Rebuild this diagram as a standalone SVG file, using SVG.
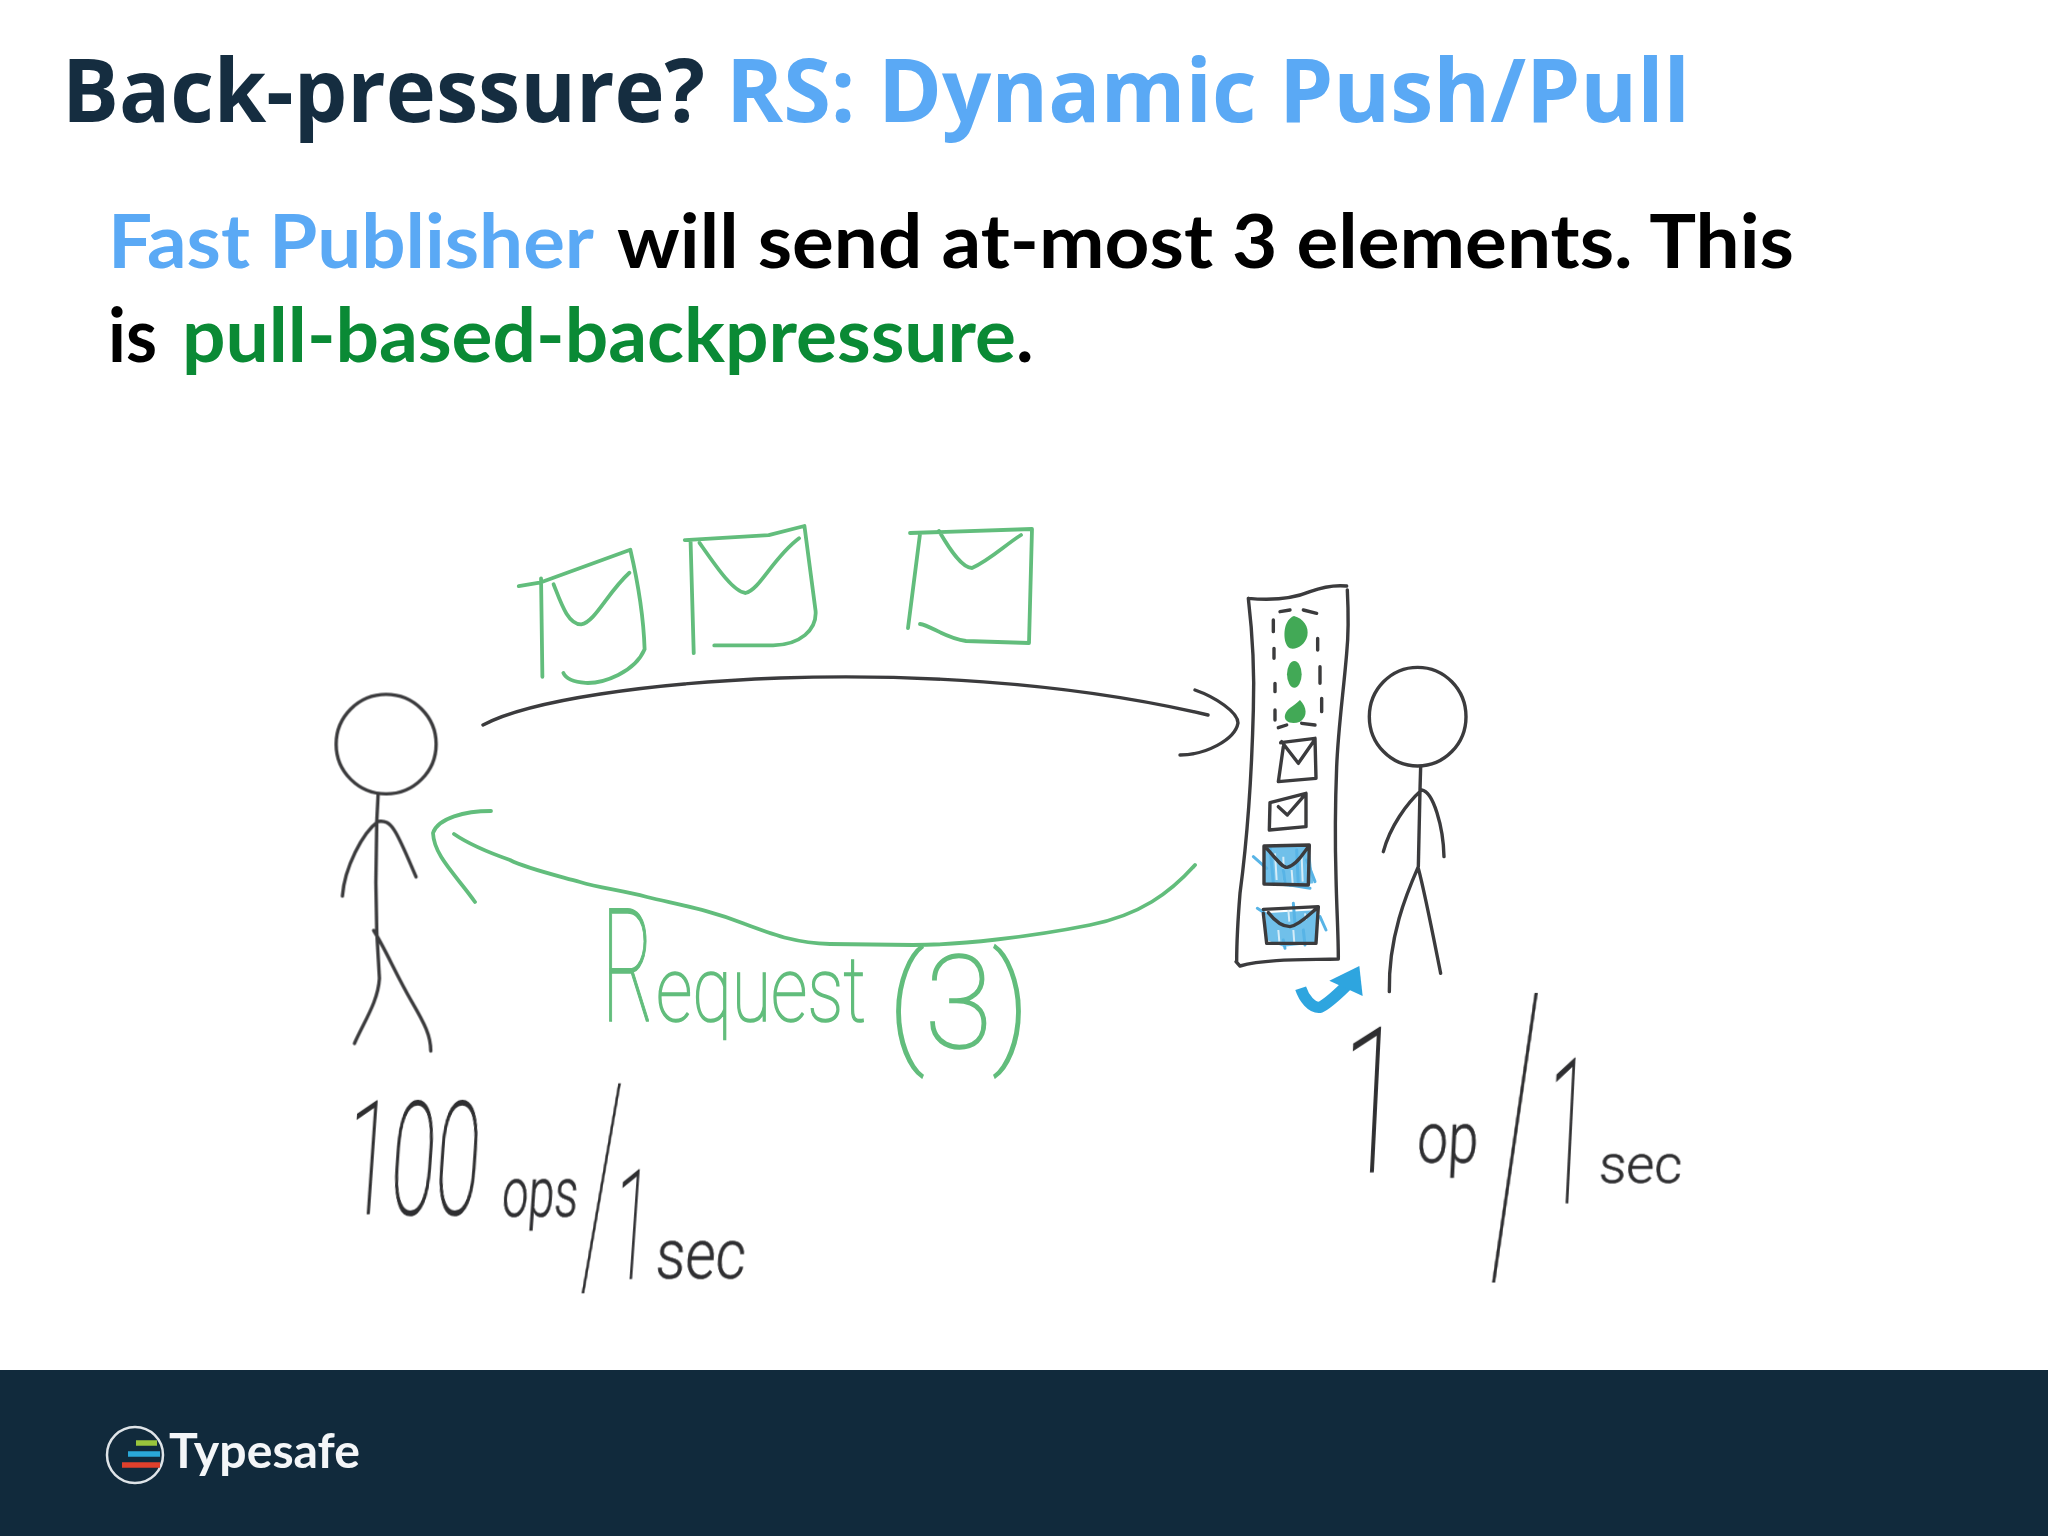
<svg xmlns="http://www.w3.org/2000/svg" width="2048" height="1536" viewBox="0 0 2048 1536">
<style>
.title{font-family:"Open Sans","Noto Sans",sans-serif;font-weight:700;font-size:88px}
.body{font-family:Lato,"Liberation Sans",sans-serif;font-weight:700;font-size:74px}
.ink,.grn,.ib{fill:none;stroke-linecap:round;stroke-linejoin:round;vector-effect:non-scaling-stroke}
.ink{stroke:#3b3b3d;stroke-width:3.4}
.grn{stroke:#62bd7c;stroke-width:3.8}
.ib{stroke:#58b4e6;stroke-width:3}
.hw{font-family:Roboto,"Open Sans",sans-serif;font-weight:100;fill:#2e2e30;stroke:#2e2e30;stroke-width:1.6}
.hwg{font-family:Roboto,"Open Sans",sans-serif;font-weight:100;fill:#62bd7c;stroke:#62bd7c;stroke-width:1.6}
.sm{font-weight:300;stroke-width:.6}
</style>
<defs><filter id="soft" x="-5%" y="-5%" width="110%" height="110%"><feGaussianBlur stdDeviation="0.6"/></filter></defs>
<rect width="2048" height="1536" fill="#ffffff"/>
<g id="title">
<text class="title" x="62" y="122" fill="#152d40" textLength="643" lengthAdjust="spacingAndGlyphs">Back-pressure?</text>
<text class="title" x="726" y="122" fill="#5aa9f5" textLength="964" lengthAdjust="spacingAndGlyphs">RS: Dynamic Push/Pull</text>
</g>
<g id="body">
<text class="body" x="108" y="268" fill="#5aa9f5" textLength="486" lengthAdjust="spacingAndGlyphs">Fast Publisher</text>
<text class="body" x="617" y="268" fill="#000" textLength="1177" lengthAdjust="spacingAndGlyphs">will send at-most 3 elements. This</text>
<text class="body" x="108" y="362" fill="#000" textLength="49" lengthAdjust="spacingAndGlyphs">is</text>
<text class="body" x="182" y="362" fill="#0a8a35" textLength="834" lengthAdjust="spacingAndGlyphs">pull-based-backpressure</text>
<text class="body" x="1016" y="362" fill="#000">.</text>
</g>
<g filter="url(#soft)">
<g id="messages" transform="translate(300 500) scale(.4464 .3827)">
<path class="grn" d="M490 225L540 215L740 130C760 230 770 320 772 390C750 450 680 480 640 478C610 475 595 465 590 452M540 205L543 462M568 220C585 270 600 325 630 325C660 320 690 240 738 190"/>
<path class="grn" d="M862 105L1050 92L1130 68L1155 290C1158 340 1120 378 1060 380L928 380M875 110L882 400M895 112C930 170 970 240 998 243C1030 235 1060 150 1118 100"/>
</g>
<path id="message3" class="grn" d="M910 533L1032 529L1029 643L966 641C945 638 930 625 920 624M920 534L908 628M939 531C950 550 962 568 972 568C990 560 1005 545 1021 535"/>
<g id="connectors">
<path class="ink" d="M483 725C530 700 650 683 780 678C900 674 1060 680 1208 715M1195 690C1215 697 1238 712 1238 723C1235 740 1205 755 1180 755"/>
<path class="grn" d="M1195 865C1170 893 1140 915 1090 925C1030 937 960 945 913 945L830 944C795 943 775 935 745 924C710 910 680 905 647 897C620 890 600 888 580 882C555 875 525 868 510 860C490 853 470 845 454 834M491 811C465 811 438 818 433 833C434 856 456 875 475 902"/>
</g>
<g id="publisher" transform="translate(300 500) scale(.4464 .3827)">
<ellipse class="ink" cx="193" cy="638" rx="112" ry="130"/>
<path class="ink" d="M175 770L172 840L170 1000L172 1130L178 1250C175 1310 145 1360 122 1420M165 1125C190 1170 215 1240 250 1310C280 1370 293 1400 293 1440M95 1035C100 960 140 870 175 840C205 835 215 860 260 985"/>
</g>
<g id="queue" transform="translate(1150 560) scale(.33333)">
<path class="ink" d="M295 115C350 120 420 120 480 95C520 80 560 75 590 78M592 90C595 150 595 230 590 280C580 400 565 500 560 620C555 750 555 850 558 950C560 1050 565 1120 565 1195M565 1197C480 1200 350 1195 270 1218L258 1205M295 115C305 200 315 300 310 450C305 650 290 850 270 1000C262 1100 260 1150 260 1205"/>
<path class="ink" d="M370 180V215M390 155L420 150M460 150L500 160M503 235V270M372 265V295M510 320V370M375 370V395M515 415V455M375 450V480M385 503L410 495M455 490L495 495"/>
<path d="M432 168C460 175 478 200 472 228C465 255 440 270 420 265C400 255 400 210 410 190C415 178 425 170 432 168Z" fill="#43a957"/>
<ellipse cx="433" cy="343" rx="22" ry="40" fill="#43a957"/>
<path d="M450 420C470 440 475 470 450 485C425 495 400 485 405 465C410 445 430 440 450 420Z" fill="#43a957"/>
<path class="ink" d="M392 548L495 535L498 655L385 665L400 560M395 545L445 610L490 545"/>
<path class="ink" d="M360 728L468 700L468 800L358 810ZM385 740L412 765L460 710"/>
<path d="M342 858L478 855L490 970L420 980L342 972Z" fill="#6fc0ea"/>
<path d="M375 880L380 960M400 890L402 965M425 930L428 970M455 890L458 965" fill="none" stroke="#d5ecf8" stroke-width="6"/>
<path class="ib" d="M310 890L350 925M360 860L370 970M400 930L405 970M440 870L445 975M470 900L495 965M420 975L480 985"/>
<path class="ink" d="M342 858L478 855L475 975L342 972ZM350 865C380 900 400 925 412 922C440 915 460 880 475 860"/>
<path d="M345 1060L505 1050L498 1150L400 1160L350 1140Z" fill="#6fc0ea"/>
<path d="M385 1110L388 1145M415 1050L418 1085M430 1110L433 1150M465 1060L468 1080" fill="none" stroke="#d5ecf8" stroke-width="6"/>
<path class="ib" d="M322 1045L345 1060M430 1030L435 1090M510 1070L528 1110M400 1140L405 1165M460 1110L465 1155"/>
<path class="ink" d="M340 1048L505 1040L498 1150L350 1150L340 1060M355 1058C380 1090 400 1100 420 1100C450 1095 480 1060 500 1045"/>
<path d="M452 1285C462 1315 485 1345 510 1342C540 1328 570 1295 605 1262" fill="none" stroke="#2fa5df" stroke-width="34"/>
<path d="M538 1262L628 1218L638 1308Z" fill="#2fa5df"/>
</g>
<g id="subscriber" transform="translate(1150 560) scale(.33333)">
<ellipse class="ink" cx="803" cy="470" rx="145" ry="148"/>
<path class="ink" d="M812 620L810 690L805 920M700 875C720 800 770 730 815 690C850 695 880 800 882 890M805 920C770 1000 715 1130 718 1295M805 925C825 1000 850 1130 872 1240"/>
</g>
<g id="labels">
<text class="hwg" y="1021"><tspan x="602" font-size="157" textLength="52" lengthAdjust="spacingAndGlyphs">R</tspan><tspan x="656" font-size="91" textLength="210" lengthAdjust="spacingAndGlyphs">equest</tspan> <tspan x="888" y="1048" font-size="130" textLength="142" lengthAdjust="spacingAndGlyphs">(3)</tspan></text>
<text class="hw" y="1214" transform="matrix(1 0 -.07 1 84 0)"><tspan x="344" font-size="158" textLength="134" lengthAdjust="spacingAndGlyphs">100</tspan> <tspan class="sm" x="502" y="1217" font-size="70" textLength="76" lengthAdjust="spacingAndGlyphs">ops</tspan><tspan x="587" y="1276" font-size="270" textLength="28" lengthAdjust="spacingAndGlyphs">/</tspan><tspan x="616" y="1278" font-size="152" textLength="36" lengthAdjust="spacingAndGlyphs">1</tspan> <tspan class="sm" x="660" font-size="70" textLength="90" lengthAdjust="spacingAndGlyphs">sec</tspan></text>
<text class="hw" y="1172" transform="matrix(1 0 -.05 1 57.5 0)"><tspan x="1338" font-size="202" textLength="62" lengthAdjust="spacingAndGlyphs">1</tspan> <tspan class="sm" x="1417" y="1163" font-size="72" textLength="61" lengthAdjust="spacingAndGlyphs">op</tspan><tspan x="1497" y="1259" font-size="373" textLength="36" lengthAdjust="spacingAndGlyphs">/</tspan><tspan x="1546" y="1203" font-size="202" textLength="42" lengthAdjust="spacingAndGlyphs">1</tspan> <tspan class="sm" x="1600" y="1183" font-size="54" textLength="83" lengthAdjust="spacingAndGlyphs">sec</tspan></text>
</g>
</g>
<g id="footer">
<rect y="1370" width="2048" height="166" fill="#112a3c"/>
<g id="logo">
<circle cx="135" cy="1455" r="28" fill="none" stroke="#dfe4e8" stroke-width="2.5"/>
<path d="M136 1443H157" stroke="#9ac53c" stroke-width="5.5"/>
<path d="M128 1454H160" stroke="#2aa8d8" stroke-width="5.5"/>
<path d="M122 1465H160" stroke="#e0402c" stroke-width="5.5"/>
<text x="169" y="1468" fill="#f4f6f8" font-family="Lato,'Open Sans',sans-serif" font-weight="700" font-size="48" textLength="191" lengthAdjust="spacingAndGlyphs">Typesafe</text>
</g>
</g>
</svg>
